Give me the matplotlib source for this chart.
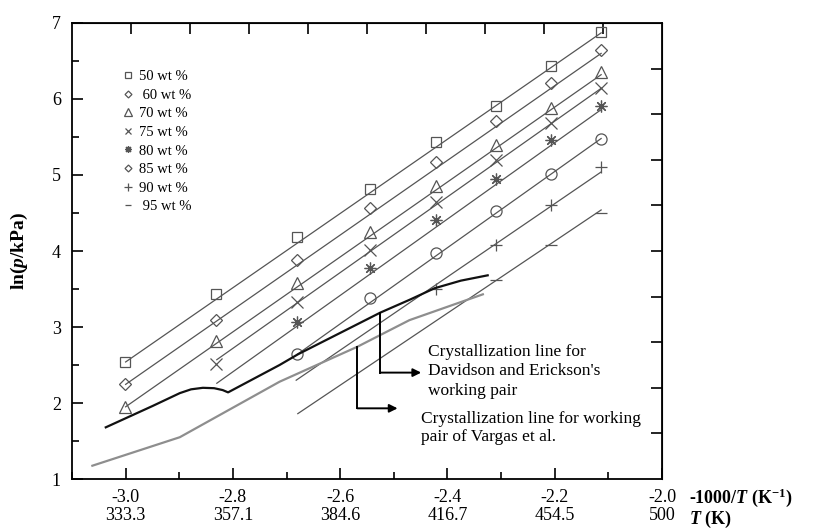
import numpy as np
import matplotlib
matplotlib.use("Agg")
import matplotlib.pyplot as plt
from matplotlib.lines import Line2D

plt.rcParams['font.family'] = ['Liberation Serif', 'DejaVu Serif']
plt.rcParams['mathtext.fontset'] = 'custom'
plt.rcParams['mathtext.rm'] = 'Liberation Serif'
plt.rcParams['mathtext.it'] = 'Liberation Serif:italic'
plt.rcParams['mathtext.bf'] = 'Liberation Serif:bold'
plt.rcParams['mathtext.bfit'] = 'Liberation Serif:italic:bold'

# measurement temperatures (K)
temps_K = [333.15, 353.15, 373.15, 393.15, 413.15, 433.15, 453.15, 473.15]

# ln(p/kPa) per concentration, nan = not measured
nan = np.nan
ln_p = {
    "50": [2.54, 3.43, 4.18, 4.82, 5.43, 5.91, 6.44, 6.88],
    "60": [2.245, 3.09, 3.88, 4.56, 5.17, 5.71, 6.21, 6.64],
    "70": [1.95, 2.82, 3.575, 4.25, 4.86, 5.40, 5.88, 6.35],
    "75": [nan, 2.51, 3.33, 4.01, 4.65, 5.20, 5.69, 6.14],
    "80": [nan, nan, 3.06, 3.78, 4.41, 4.95, 5.46, 5.91],
    "85": [nan, nan, 2.65, 3.38, 3.98, 4.52, 5.01, 5.48],
    "90": [nan, nan, nan, nan, 3.50, 4.08, 4.60, 5.11],
    "95": [nan, nan, nan, nan, nan, 3.62, 4.08, 4.50],
}

# model lines: start x, ln p at start, ln p at end (end x = last temperature)
line_x0 = [-3.0, -3.0, -3.0, -2.83, -2.83, -2.68, -2.682, -2.679]
line_y0 = [2.54, 2.245, 1.95, 2.57, 2.26, 2.64, 2.30, 1.86]
line_y1 = [6.87, 6.60, 6.32, 6.14, 5.86, 5.48, 5.04, 4.54]

# crystallization lines
davidson_x = [-3.037, -2.95, -2.899, -2.878, -2.856, -2.835, -2.819, -2.809,
              -2.713, -2.679, -2.525, -2.47, -2.424, -2.375, -2.325]
davidson_y = [1.68, 1.96, 2.13, 2.18, 2.20, 2.195, 2.17, 2.14,
              2.50, 2.64, 3.19, 3.36, 3.51, 3.61, 3.68]
vargas_x = [-3.062, -2.899, -2.713, -2.568, -2.471, -2.334]
vargas_y = [1.175, 1.55, 2.28, 2.74, 3.09, 3.43]

xticks = [-3.0, -2.8, -2.6, -2.4, -2.2, -2.0]
T_labels = ["333.3", "357.1", "384.6", "416.7", "454.5", "500"]

markers = ['s', 'D', '^', 'x', (8, 2, 0), 'o', '+', '_']
msizes = [7.5, 6.5, 8, 8, 8.5, 8, 8, 8]
leg_markers = ['s', 'D', '^', 'x', (8, 2, 0), 'D', '+', '_']
leg_sizes = [4.5, 3.5, 5.5, 4.5, 5, 3.5, 6, 5]
leg_labels = ["50 wt %", " 60 wt %", "70 wt %", "75 wt %", "80 wt %",
              "85 wt %", "90 wt %", " 95 wt %"]

gray = '#555555'
x_pts = -1000.0 / np.array(temps_K)

fig = plt.figure(figsize=(8.17, 5.31), dpi=100)
ax = fig.add_axes([0.0881, 0.0979, 0.7222, 0.8588])

for i, key in enumerate(ln_p):
    ax.plot([line_x0[i], x_pts[-1]], [line_y0[i], line_y1[i]], color=gray, lw=0.9)
    ax.plot(x_pts, ln_p[key], linestyle='none', marker=markers[i], ms=msizes[i],
            mfc='none', mec=gray, mew=0.9)

ax.plot(davidson_x, davidson_y, color='#111111', lw=1.6)
ax.plot(vargas_x, vargas_y, color='#8e8e8e', lw=1.6)

# arrows to the crystallization labels
arrow_kw = dict(arrowstyle='-|>', color='black', lw=1.4, mutation_scale=12,
                shrinkA=0, shrinkB=0)
ax.plot([-2.525, -2.525], [3.19, 2.40], color='black', lw=1.4)
ax.annotate('', xy=(-2.449, 2.40), xytext=(-2.525, 2.40), arrowprops=arrow_kw)
ax.plot([-2.568, -2.568], [2.74, 1.93], color='black', lw=1.4)
ax.annotate('', xy=(-2.493, 1.93), xytext=(-2.568, 1.93), arrowprops=arrow_kw)

ax.text(-2.436, 2.78, "Crystallization line for\nDavidson and Erickson's\nworking pair",
        fontsize=12.5, va='top', ha='left', linespacing=1.3)
ax.text(-2.449, 1.90, "Crystallization line for working\npair of Vargas et al.",
        fontsize=12.5, va='top', ha='left', linespacing=1.22)

handles = [Line2D([], [], linestyle='none', marker=m, ms=s, mfc='none', mec=gray, mew=0.9)
           for m, s in zip(leg_markers, leg_sizes)]
handles[4].set_markerfacecolor(gray)
ax.legend(handles, leg_labels, loc='upper left', bbox_to_anchor=(0.0847, 0.897),
          frameon=False, fontsize=10.5, handlelength=0.8, handletextpad=0.35,
          labelspacing=0.37, borderpad=0, borderaxespad=0)

ax.set_xlim(-3.1, -2.0)
ax.set_ylim(1, 7)
ax.set_xticks(xticks)
ax.set_xticklabels([f"{x:.1f}\n{t}" for x, t in zip(xticks, T_labels)], linespacing=1.1)
ax.set_xticks(np.arange(-3.1, -2.0, 0.2), minor=True)
ax.set_yticks(range(1, 8))
ax.set_yticks(np.arange(1.5, 7, 1.0), minor=True)
ax.tick_params(which='both', direction='in', top=False, right=False, labelsize=13)
ax.tick_params(which='major', length=8, width=1.2)
ax.tick_params(which='minor', length=5, width=1.2)
ax.tick_params(axis='x', pad=7)
ax.tick_params(axis='y', pad=8)
for sp in ax.spines.values():
    sp.set_linewidth(1.3)

# top and right frame ticks (10 equal divisions)
top = ax.secondary_xaxis('top')
top.set_xticks(np.linspace(-3.1, -2.0, 11)[1:-1])
top.tick_params(direction='in', length=8, width=1.2, labeltop=False)
right = ax.secondary_yaxis('right')
right.set_yticks(np.linspace(1, 7, 11)[1:-1])
right.tick_params(direction='in', length=8, width=1.2, labelright=False)

ax.set_ylabel(r"ln($\mathbfit{p}$/kPa)", fontsize=14, fontweight='bold', labelpad=16)
fig.text(689 / 817, 1 - 498 / 531, r"-1000/$\mathbfit{T}$ (K$^{\mathbf{-1}}$)",
         fontsize=13, fontweight='bold', va='center', ha='left')
fig.text(689 / 817, 1 - 519 / 531, r"$\mathbfit{T}$ (K)",
         fontsize=13, fontweight='bold', va='center', ha='left')

fig.savefig("out.png", dpi=100)
